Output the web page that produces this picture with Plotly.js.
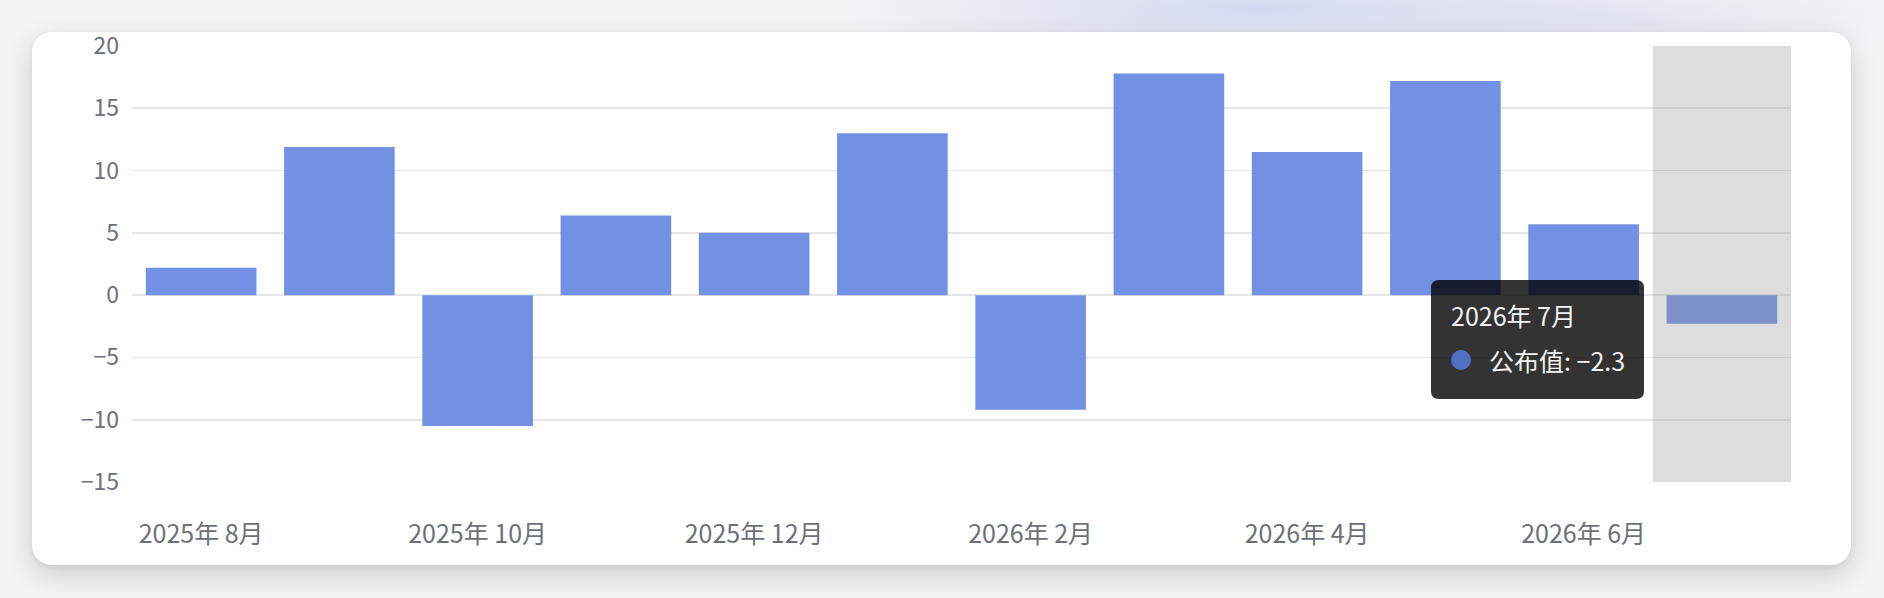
<!DOCTYPE html>
<html>
<head>
<meta charset="utf-8">
<script src="https://cdn.plot.ly/plotly-3.0.1.min.js"></script>
<style>
  html, body { margin: 0; padding: 0; }
  body {
    width: 1884px; height: 598px; overflow: hidden; position: relative;
    background:
      radial-gradient(ellipse 420px 60px at 1260px 10px, rgba(200,208,240,0.75), rgba(200,208,240,0) 100%),
      radial-gradient(ellipse 300px 50px at 1620px 20px, rgba(215,220,240,0.6), rgba(215,220,240,0) 100%),
      #f4f4f5;
  }
  #card {
    position: absolute; left: 32px; top: 32px; width: 1819px; height: 533px;
    background: #ffffff; border-radius: 20px;
    box-shadow: 0 10px 28px rgba(0,0,0,0.16), 0 2px 6px rgba(0,0,0,0.06);
  }
  #chart { position: absolute; left: 0; top: 0; width: 1884px; height: 598px; }
</style>
</head>
<body>
<div id="card"></div>
<div id="chart"></div>
<script>
// ---- data ----
const months = ["2025年 8月","2025年 9月","2025年 10月","2025年 11月","2025年 12月","2026年 1月",
                "2026年 2月","2026年 3月","2026年 4月","2026年 5月","2026年 6月","2026年 7月"];
const values = [2.2, 11.9, -10.5, 6.4, 5.0, 13.0, -9.2, 17.8, 11.5, 17.2, 5.7, -2.3];
const tickLabels = ["2025年 8月","2025年 10月","2025年 12月","2026年 2月","2026年 4月","2026年 6月"];
const seriesName = "公布值";
const highlightMonth = "2026年 7月";
const yTicks = [-15, -10, -5, 0, 5, 10, 15, 20];

// ---- layout geometry ----
const W = 1884, H = 598;
const M = {l: 132, r: 93, t: 46, b: 116};
const plotW = W - M.l - M.r, plotH = H - M.t - M.b;
const pxX = px => (px - M.l) / plotW;          // page px -> paper x
const pxY = py => (H - M.b - py) / plotH;      // page px -> paper y

const font = '"Noto Sans CJK SC", "Noto Sans", sans-serif';
const axisGray = '#6e7079';
const fmt = v => String(v).replace('-', '\u2212');

const hi = months.indexOf(highlightMonth);

const trace = {
  type: 'bar',
  x: months,
  y: values,
  name: seriesName,
  marker: {color: '#7391e4', line: {width: 0}},
  hoverinfo: 'none'
};

// tooltip box (rounded rect) in pixels relative to its top-left anchor
const tw = 213, th = 119, r = 8;
const boxPath = `M ${r},0 H ${tw - r} Q ${tw},0 ${tw},${-r} V ${-(th - r)} Q ${tw},${-th} ${tw - r},${-th} H ${r} Q 0,${-th} 0,${-(th - r)} V ${-r} Q 0,0 ${r},0 Z`;

const layout = {
  width: W, height: H,
  margin: M,
  paper_bgcolor: 'rgba(0,0,0,0)',
  plot_bgcolor: 'rgba(0,0,0,0)',
  showlegend: false,
  bargap: 0.2,
  font: {family: font, color: axisGray, size: 23},
  xaxis: {
    type: 'category',
    categoryorder: 'array', categoryarray: months,
    range: [-0.5, months.length - 0.5],
    tickmode: 'array', tickvals: tickLabels, ticktext: tickLabels,
    showgrid: false, zeroline: false, showline: false, ticks: '',
    ticklabelstandoff: 35,
    tickfont: {family: font, size: 25, color: axisGray},
    fixedrange: true
  },
  yaxis: {
    range: [yTicks[0], yTicks[yTicks.length - 1]],
    tickmode: 'array', tickvals: yTicks,
    showgrid: true, gridcolor: '#e6e6e8', gridwidth: 1.6,
    zeroline: false, showline: false, ticks: '',
    ticklabelstandoff: 12,
    tickfont: {family: font, size: 23, color: axisGray},
    fixedrange: true
  },
  shapes: [
    // highlighted month shadow
    {type: 'rect', xref: 'x', yref: 'paper', x0: hi - 0.5, x1: hi + 0.5, y0: 0, y1: 1,
     fillcolor: 'rgba(150,150,150,0.32)', line: {width: 0}, layer: 'above'},
    // tooltip box
    {type: 'path', xref: 'paper', yref: 'paper', xsizemode: 'pixel', ysizemode: 'pixel',
     xanchor: pxX(1431), yanchor: pxY(280), path: boxPath,
     fillcolor: 'rgba(0,0,0,0.8)', line: {width: 0}, layer: 'above'},
    // tooltip dot
    {type: 'circle', xref: 'paper', yref: 'paper', xsizemode: 'pixel', ysizemode: 'pixel',
     xanchor: pxX(1461), yanchor: pxY(360), x0: -10, x1: 10, y0: -10, y1: 10,
     fillcolor: '#5470c6', line: {width: 0}, layer: 'above'}
  ],
  annotations: [
    {xref: 'paper', yref: 'paper', x: pxX(1449), y: pxY(315), xanchor: 'left', yanchor: 'middle',
     text: highlightMonth, showarrow: false,
     font: {family: font, size: 25, color: '#f2f2f2'}},
    {xref: 'paper', yref: 'paper', x: pxX(1487), y: pxY(360), xanchor: 'left', yanchor: 'middle',
     text: `${seriesName}: ${fmt(values[hi])}`, showarrow: false,
     font: {family: font, size: 25, color: '#f2f2f2'}}
  ]
};

Plotly.newPlot('chart', [trace], layout, {displayModeBar: false, staticPlot: true});
</script>
</body>
</html>
